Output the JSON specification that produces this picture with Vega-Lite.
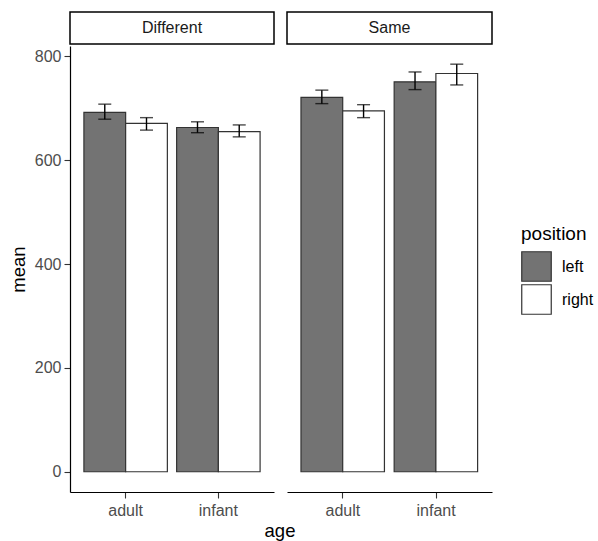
{
  "$schema": "https://vega.github.io/schema/vega-lite/v6.json",
  "padding": {"left": 9, "top": 11, "right": 5, "bottom": 3},
  "background": "white",
  "title": {"text": "age", "orient": "bottom", "anchor": "start", "frame": "group", "align": "center", "dx": 210, "offset": 4, "fontSize": 18.5, "fontWeight": "normal", "color": "black"},
  "data": {"values": [
    {"condition": "Different", "age": "adult", "position": "left", "mean": 692, "lo": 679, "hi": 708},
    {"condition": "Different", "age": "adult", "position": "right", "mean": 671, "lo": 658, "hi": 682},
    {"condition": "Different", "age": "infant", "position": "left", "mean": 663, "lo": 653, "hi": 674},
    {"condition": "Different", "age": "infant", "position": "right", "mean": 655, "lo": 645, "hi": 668},
    {"condition": "Same", "age": "adult", "position": "left", "mean": 721, "lo": 709, "hi": 735},
    {"condition": "Same", "age": "adult", "position": "right", "mean": 695, "lo": 682, "hi": 707},
    {"condition": "Same", "age": "infant", "position": "left", "mean": 751, "lo": 736, "hi": 770},
    {"condition": "Same", "age": "infant", "position": "right", "mean": 767, "lo": 745, "hi": 785}
  ]},
  "spacing": 11,
  "hconcat": [
    {
      "spacing": 1,
      "vconcat": [
        {
          "width": 204, "height": 32,
          "view": {"stroke": "black", "strokeWidth": 1.5, "fill": "white"},
          "transform": [{"filter": "datum.condition === 'Different'"}, {"aggregate": [{"op": "count", "as": "n"}], "groupby": ["condition"]}],
          "mark": {"type": "text", "fontSize": 16, "color": "#1A1A1A", "baseline": "middle", "align": "center"},
          "encoding": {"text": {"field": "condition"}}
        },
        {
          "width": 204, "height": 446,
          "transform": [{"filter": "datum.condition === 'Different'"}],
          "encoding": {
            "x": {"field": "age", "type": "nominal", "scale": {"paddingInner": 0.1, "paddingOuter": 0.15},
                  "axis": {"title": null, "labelAngle": 0}},
            "xOffset": {"field": "position", "type": "nominal", "scale": {"paddingInner": 0, "paddingOuter": 0}}
          },
          "layer": [
            {
              "mark": {"type": "bar", "stroke": "#333333", "strokeWidth": 1.2},
              "encoding": {
                "y": {"field": "mean", "type": "quantitative", "scale": {"domain": [-39, 820], "nice": false, "zero": false},
                      "axis": {"title": "mean", "values": [0, 200, 400, 600, 800]}},
                "y2": {"datum": 0},
                "fill": {"field": "position", "type": "nominal", "scale": {"domain": ["left", "right"], "range": ["#737373", "#FFFFFF"]},
                         "legend": {"title": "position"}}
              }
            },
            {
              "mark": {"type": "rule", "color": "black", "strokeWidth": 1.4},
              "encoding": {"y": {"field": "lo", "type": "quantitative"}, "y2": {"field": "hi"}}
            },
            {
              "mark": {"type": "tick", "color": "black", "size": 13, "thickness": 1.4},
              "encoding": {"y": {"field": "lo", "type": "quantitative"}}
            },
            {
              "mark": {"type": "tick", "color": "black", "size": 13, "thickness": 1.4},
              "encoding": {"y": {"field": "hi", "type": "quantitative"}}
            }
          ]
        }
      ]
    },
    {
      "spacing": 1,
      "vconcat": [
        {
          "width": 205, "height": 32,
          "view": {"stroke": "black", "strokeWidth": 1.5, "fill": "white"},
          "transform": [{"filter": "datum.condition === 'Same'"}, {"aggregate": [{"op": "count", "as": "n"}], "groupby": ["condition"]}],
          "mark": {"type": "text", "fontSize": 16, "color": "#1A1A1A", "baseline": "middle", "align": "center"},
          "encoding": {"text": {"field": "condition"}}
        },
        {
          "width": 205, "height": 446,
          "transform": [{"filter": "datum.condition === 'Same'"}],
          "encoding": {
            "x": {"field": "age", "type": "nominal", "scale": {"paddingInner": 0.1, "paddingOuter": 0.15},
                  "axis": {"title": null, "labelAngle": 0}},
            "xOffset": {"field": "position", "type": "nominal", "scale": {"paddingInner": 0, "paddingOuter": 0}}
          },
          "layer": [
            {
              "mark": {"type": "bar", "stroke": "#333333", "strokeWidth": 1.2},
              "encoding": {
                "y": {"field": "mean", "type": "quantitative", "scale": {"domain": [-39, 820], "nice": false, "zero": false},
                      "axis": null},
                "y2": {"datum": 0},
                "fill": {"field": "position", "type": "nominal", "scale": {"domain": ["left", "right"], "range": ["#737373", "#FFFFFF"]},
                         "legend": {"title": "position"}}
              }
            },
            {
              "mark": {"type": "rule", "color": "black", "strokeWidth": 1.4},
              "encoding": {"y": {"field": "lo", "type": "quantitative"}, "y2": {"field": "hi"}}
            },
            {
              "mark": {"type": "tick", "color": "black", "size": 13, "thickness": 1.4},
              "encoding": {"y": {"field": "lo", "type": "quantitative"}}
            },
            {
              "mark": {"type": "tick", "color": "black", "size": 13, "thickness": 1.4},
              "encoding": {"y": {"field": "hi", "type": "quantitative"}}
            }
          ]
        }
      ]
    }
  ],
  "config": {
    "font": "Liberation Sans",
    "view": {"stroke": null},
    "axis": {
      "grid": false,
      "domainColor": "black", "domainWidth": 1.2,
      "tickColor": "#333333", "tickSize": 6, "tickWidth": 1.1,
      "labelColor": "#4D4D4D", "labelFontSize": 16, "labelPadding": 3,
      "titleColor": "black", "titleFontSize": 18.5, "titleFontWeight": "normal"
    },
    "axisY": {"titlePadding": 6},
    "axisX": {"titlePadding": 3, "labelPadding": 4},
    "legend": {
      "orient": "none", "legendX": 451, "legendY": 213,
      "titleFontSize": 19, "titleFontWeight": "normal", "titleColor": "black", "titlePadding": 7,
      "labelFontSize": 16, "labelColor": "black", "labelOffset": 10,
      "symbolType": "square", "symbolSize": 870, "symbolStrokeColor": "#333333", "symbolStrokeWidth": 1.2,
      "rowPadding": -2
    }
  }
}
